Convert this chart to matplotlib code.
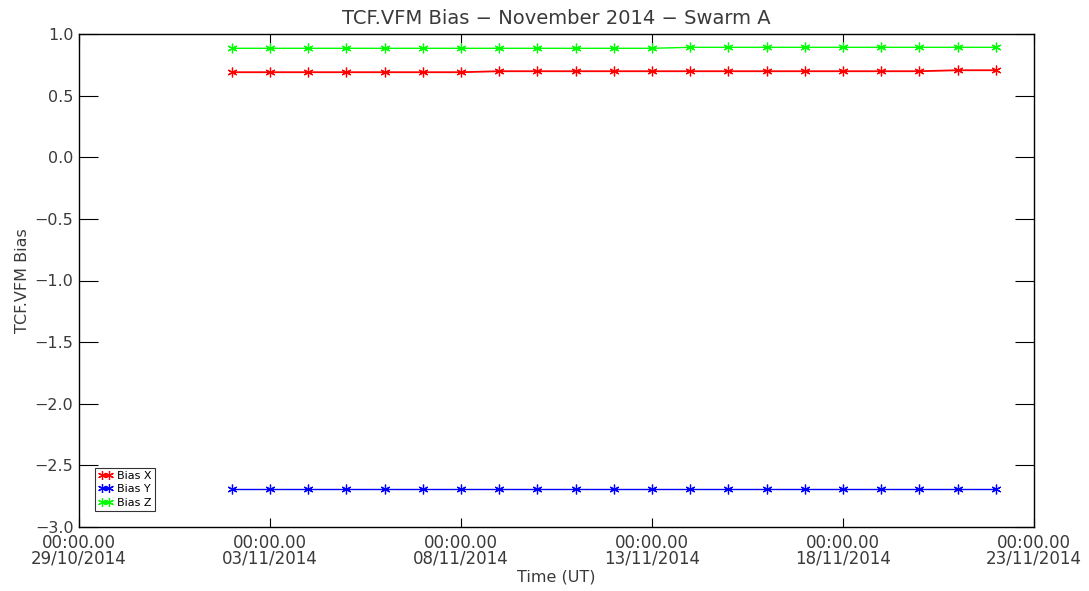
import matplotlib
matplotlib.use("Agg")
import matplotlib.pyplot as plt
import pandas as pd

# ---- data ----
dates = pd.date_range("2014-11-02", "2014-11-22", freq="D")
bias_x = [0.690, 0.690, 0.690, 0.690, 0.690, 0.690, 0.690,
          0.698, 0.698, 0.698, 0.698, 0.698, 0.698, 0.698,
          0.698, 0.698, 0.698, 0.698, 0.698, 0.706, 0.706]
bias_y = [-2.693] * 21
bias_z = [0.884, 0.884, 0.884, 0.884, 0.884, 0.884, 0.884,
          0.884, 0.884, 0.884, 0.884, 0.884, 0.892, 0.892,
          0.892, 0.892, 0.892, 0.892, 0.892, 0.892, 0.892]
series_labels = ["Bias X", "Bias Y", "Bias Z"]
series_colors = ["#ff0000", "#0000ff", "#00ff00"]
x_start = pd.Timestamp("2014-10-29")
x_end = pd.Timestamp("2014-11-23")
y_ticks = [1.0, 0.5, 0.0, -0.5, -1.0, -1.5, -2.0, -2.5, -3.0]

plt.rcParams["font.family"] = ["DejaVu Sans"]
txt_color = "#3a3a3a"

fig = plt.figure(figsize=(10.89, 5.91), dpi=100)
ax = fig.add_axes([79 / 1089, 1 - 527 / 591, (1034 - 79) / 1089, (527 - 34) / 591])

star = (6, 2, 0)
widths = [1.3, 1.0, 1.0]
for vals, lab, col, lw in zip([bias_x, bias_y, bias_z], series_labels, series_colors, widths):
    ax.plot(dates, vals, color=col, lw=lw, marker=star, markersize=7,
            markeredgewidth=0.9, label=lab)

ax.set_xlim(x_start, x_end)
ax.set_ylim(-3.0, 1.0)
ax.set_yticks(y_ticks)
ax.set_yticklabels([f"{v:.1f}".replace("-", "\u2212") for v in y_ticks])

xt = pd.date_range(x_start, x_end, freq="5D")
ax.set_xticks(xt)
ax.set_xticklabels([d.strftime("%H:%M.%S") + "\n" + d.strftime("%d/%m/%Y") for d in xt])
for lbl in ax.get_xticklabels():
    lbl.set_linespacing(0.8)

ax.tick_params(axis="y", direction="in", length=13.7, width=0.8, left=True, right=True,
               labelsize=11.5, labelcolor=txt_color, pad=4)
ax.tick_params(axis="x", direction="in", length=6.5, width=0.8, top=True, bottom=True,
               labelsize=12, labelcolor=txt_color, pad=5)
for s in ax.spines.values():
    s.set_linewidth(1.0)
    s.set_color("black")

ax.set_title("TCF.VFM Bias \u2212 November 2014 \u2212 Swarm A", fontsize=14,
             color=txt_color, pad=7)
ax.set_xlabel("Time (UT)", fontsize=11.5, color=txt_color, labelpad=2)
ax.set_ylabel("TCF.VFM Bias", fontsize=11.5, color=txt_color, labelpad=3)

leg = ax.legend(loc="lower left", bbox_to_anchor=(16 / 955, 16 / 493), borderaxespad=0,
                fontsize=8, numpoints=2, handlelength=1.3, handletextpad=0.35,
                labelspacing=0.3, borderpad=0.3, fancybox=False, frameon=True,
                markerscale=0.9)
leg.get_frame().set_edgecolor("black")
leg.get_frame().set_linewidth(0.8)

fig.savefig("out.png", dpi=100)
